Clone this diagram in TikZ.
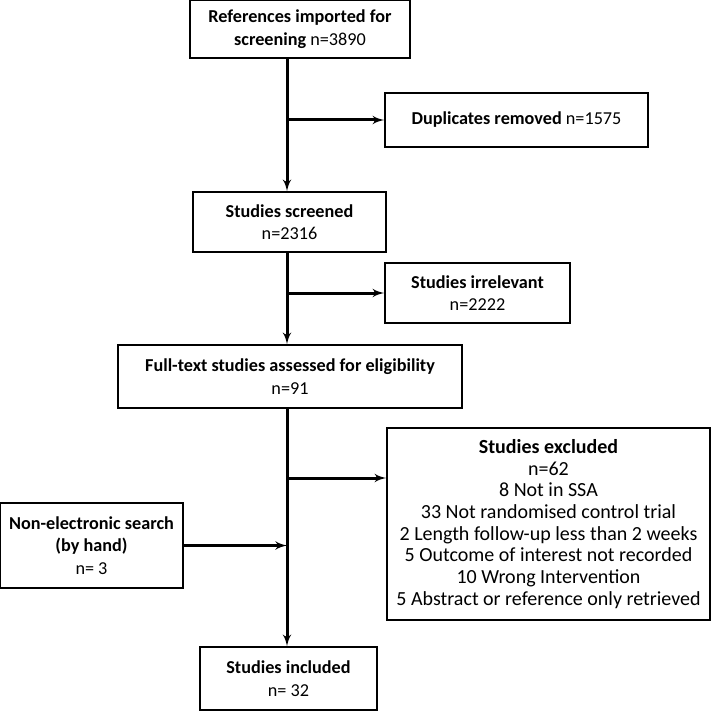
\documentclass[tikz,border=0pt]{standalone}
\usepackage{fontspec}
\setmainfont{Carlito}
\usepackage{tikz}
\usetikzlibrary{arrows,positioning}
\tikzset{font=\fontsize{18.2}{22.5}\selectfont}
\tikzset{box/.style={draw,line width=1.6pt,align=center,inner sep=0pt}}
\tikzset{flow/.style={line width=3pt,-latex'}}

\begin{document}
\begin{tikzpicture}[x=1pt,y=-1pt]
  \useasboundingbox (0,0) rectangle (710,711);
  \coordinate (spine) at (287,0);
  \node[box,minimum width=220,minimum height=58] (refs) at (300,29)
    {\textbf{References imported for}\\\textbf{screening} n=3890};
  \node[box,minimum width=263,minimum height=54] (dupl) at (516.5,120)
    {\textbf{Duplicates removed} n=1575};
  \node[box,minimum width=193,minimum height=60] (scrn) at (289.5,222)
    {\textbf{Studies screened}\\n=2316};
  \node[box,minimum width=185,minimum height=60] (irrl) at (477.5,293)
    {\textbf{Studies irrelevant}\\n=2222};
  \node[box,minimum width=344,minimum height=63] (full) at (290,376.5)
    {\textbf{Full-text studies assessed for eligibility}\\n=91};
  \node[box,minimum width=323,minimum height=192,
        font=\fontsize{20}{21.7}\selectfont] (excl) at (548.5,524)
    {\textbf{Studies excluded}\\n=62\\8 Not in SSA\\33 Not randomised control trial\\
     2 Length follow-up less than 2 weeks\\5 Outcome of interest not recorded\\
     10 Wrong Intervention\\5 Abstract or reference only retrieved};
  \node[box,minimum width=183,minimum height=85] (hand) at (91.5,545.5)
    {\textbf{Non-electronic search}\\\textbf{(by hand)}\\n= 3};
  \node[box,minimum width=177,minimum height=63] (incl) at (288.5,678.5)
    {\textbf{Studies included}\\n= 32};
  % main line
  \draw[flow] (refs.south -| spine) -- (scrn.north -| spine);
  \draw[flow] (scrn.south -| spine) -- (full.north -| spine);
  \draw[flow] (full.south -| spine) -- (incl.north -| spine);
  % side branches
  \draw[flow] (dupl.west -| spine) -- (dupl.west);
  \draw[flow] (irrl.west -| spine) -- (irrl.west);
  \coordinate (exbr) at (287,478);
  \draw[flow] (exbr) -- (exbr -| excl.west);
  \draw[flow] (hand.east) -- (hand.east -| spine);
\end{tikzpicture}
\end{document}
